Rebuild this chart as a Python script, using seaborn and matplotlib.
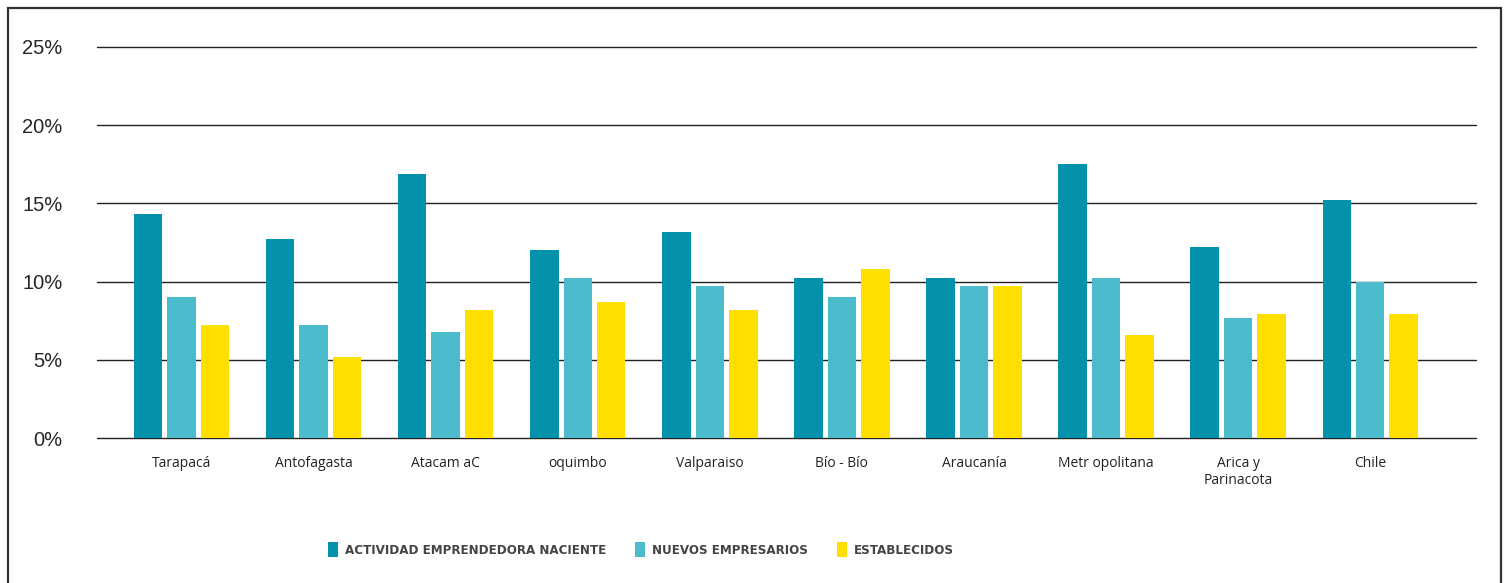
import matplotlib
matplotlib.use("Agg")
import matplotlib.pyplot as plt
import seaborn as sns
import pandas as pd
from matplotlib.patches import Rectangle

regiones = ["Tarapacá", "Antofagasta", "Atacam aC", "oquimbo", "Valparaiso",
            "Bío - Bío", "Araucanía", "Metr opolitana", "Arica y\nParinacota", "Chile"]
series = ["ACTIVIDAD EMPRENDEDORA NACIENTE", "NUEVOS EMPRESARIOS", "ESTABLECIDOS"]
naciente = [14.3, 12.7, 16.9, 12.0, 13.2, 10.2, 10.2, 17.5, 12.2, 15.2]
nuevos = [9.0, 7.2, 6.8, 10.2, 9.7, 9.0, 9.7, 10.2, 7.7, 10.0]
establecidos = [7.2, 5.2, 8.2, 8.7, 8.2, 10.8, 9.7, 6.6, 7.9, 7.9]
yticks = [0, 5, 10, 15, 20, 25]
ytick_labels = ["0%", "5%", "10%", "15%", "20%", "25%"]
colors = ["#0391AC", "#4ABCCB", "#FFDF00"]

df = pd.DataFrame({
    "region": regiones * 3,
    "serie": [series[0]] * 10 + [series[1]] * 10 + [series[2]] * 10,
    "valor": naciente + nuevos + establecidos,
})

sns.set_style("white")
fig = plt.figure(figsize=(15.06, 5.83), dpi=100)
ax = fig.add_axes([0.0644, 0.2487, 0.9156, 0.6707])

sns.barplot(data=df, x="region", y="valor", hue="serie", order=regiones,
            hue_order=series, palette=colors, width=0.76, gap=0.15,
            saturation=1, ax=ax, zorder=3, linewidth=0, edgecolor="none")

ax.set_ylim(0, 25)
ax.set_xlim(-0.64, 9.8)
ax.set_yticks(yticks)
ax.set_yticklabels(ytick_labels, fontsize=14.5, family=["Liberation Sans", "DejaVu Sans"])
ax.tick_params(axis="y", length=0, pad=25)
ax.tick_params(axis="x", length=0, pad=13)
for lab in ax.get_xticklabels():
    lab.set_fontfamily(["Open Sans", "DejaVu Sans"])
    lab.set_fontsize(10)
    lab.set_color("#222222")
ax.set_xlabel("")
ax.set_ylabel("")
ax.set_axisbelow(True)
ax.yaxis.grid(True, color="#222222", linewidth=1.0)
for gl in ax.get_ygridlines():
    gl.set_clip_on(False)
ax.xaxis.grid(False)
for s in ax.spines.values():
    s.set_visible(False)

leg = ax.legend(loc="center", bbox_to_anchor=(0.4256, 0.057), bbox_transform=fig.transFigure,
                ncol=3, frameon=False, handlelength=0.75, handleheight=1.3,
                handletextpad=0.55, columnspacing=2.2,
                prop={"family": ["DejaVu Sans"], "stretch": "condensed",
                      "weight": "bold", "size": 9.5})
for t in leg.get_texts():
    t.set_color("#444444")

fig.patches.append(Rectangle((0.0053, -0.1), 0.9914, 1.0863, transform=fig.transFigure,
                             fill=False, edgecolor="#333333", linewidth=1.6))

fig.savefig("out.png", dpi=100)
